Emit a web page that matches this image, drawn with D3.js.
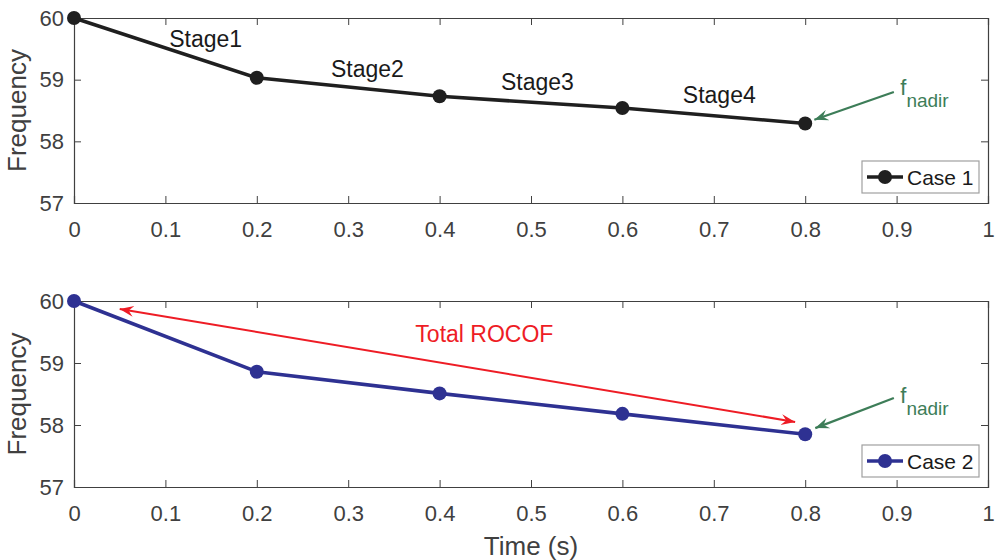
<!DOCTYPE html>
<html>
<head>
<meta charset="utf-8">
<script src="https://cdn.jsdelivr.net/npm/d3@7"></script>
<style>
  body { margin: 0; background: #fff; }
  svg text { font-family: "Liberation Sans", Arial, sans-serif; }
</style>
</head>
<body>
<svg id="chart" width="995" height="560"></svg>
<script>
// ---- data ----
const times = [0, 0.2, 0.4, 0.6, 0.8];
const case1 = [60, 59.03, 58.73, 58.54, 58.29];
const case2 = [60, 58.86, 58.51, 58.18, 57.85];
const xTicks = [0, 0.1, 0.2, 0.3, 0.4, 0.5, 0.6, 0.7, 0.8, 0.9, 1];
const yTicks = [57, 58, 59, 60];
const stageLabels = ["Stage1", "Stage2", "Stage3", "Stage4"];
// label anchor positions in data units (x, y)
const stageX = [0.144, 0.321, 0.507, 0.706];
const stageY = [59.53, 59.04, 58.83, 58.62];

// ---- layout ----
const left = 74, right = 988;
const panels = [
  { top: 18, bottom: 203, data: case1, color: "#1f1f1f", name: "Case 1",
    nadirText: [0.904, 58.75], nadirArrow: [[0.897, 58.80], [0.810, 58.35]] },
  { top: 301, bottom: 487, data: case2, color: "#2e3192", name: "Case 2",
    nadirText: [0.904, 58.355], nadirArrow: [[0.897, 58.435], [0.811, 57.95]] }
];

const axisColor = "#404040";
const green = "#3d7d58";
const red = "#ee1c25";

const svg = d3.select("#chart");

const x = d3.scaleLinear().domain([0, 1]).range([left, right]);

// arrowhead markers
const defs = svg.append("defs");
function arrowMarker(id, color) {
  defs.append("marker")
    .attr("id", id)
    .attr("viewBox", "-14 -7 16 14")
    .attr("refX", 0)
    .attr("refY", 0)
    .attr("markerUnits", "userSpaceOnUse")
    .attr("markerWidth", 16)
    .attr("markerHeight", 14)
    .attr("orient", "auto-start-reverse")
    .append("path")
    .attr("d", "M0,0 L-14,-5.5 L-9,0 L-14,5.5 Z")
    .attr("fill", color);
}
arrowMarker("arrowGreen", green);
arrowMarker("arrowRed", red);

panels.forEach((p, i) => {
  const y = d3.scaleLinear().domain([57, 60]).range([p.bottom, p.top]);
  const g = svg.append("g");

  // axes: full box with inward ticks on all four sides
  g.append("g")
    .attr("transform", `translate(0,${p.bottom})`)
    .call(d3.axisBottom(x).tickValues(xTicks).tickSize(-7).tickPadding(18).tickFormat(d3.format("")));
  g.append("g")
    .attr("transform", `translate(0,${p.top})`)
    .call(d3.axisTop(x).tickValues(xTicks).tickSize(-7).tickFormat(""));
  g.append("g")
    .attr("transform", `translate(${left},0)`)
    .call(d3.axisLeft(y).tickValues(yTicks).tickSize(-7).tickPadding(10).tickFormat(d3.format("d")));
  g.append("g")
    .attr("transform", `translate(${right},0)`)
    .call(d3.axisRight(y).tickValues(yTicks).tickSize(-7).tickFormat(""));

  g.selectAll(".domain").attr("stroke", axisColor).attr("stroke-width", 1.2);
  g.selectAll(".tick line").attr("stroke", axisColor);
  g.selectAll(".tick text").attr("fill", axisColor).style("font-size", "22px");

  // y label
  g.append("text")
    .attr("transform", `translate(26,${(p.top + p.bottom) / 2}) rotate(-90)`)
    .attr("text-anchor", "middle")
    .attr("fill", axisColor)
    .style("font-size", "26px")
    .text("Frequency");

  // series line + markers
  const line = d3.line().x((d, j) => x(times[j])).y(d => y(d));
  g.append("path")
    .datum(p.data)
    .attr("fill", "none")
    .attr("stroke", p.color)
    .attr("stroke-width", 3.6)
    .attr("stroke-linejoin", "round")
    .attr("d", line);
  g.selectAll(".pt")
    .data(p.data)
    .join("circle")
    .attr("cx", (d, j) => x(times[j]))
    .attr("cy", d => y(d))
    .attr("r", 7)
    .attr("fill", p.color);

  // f_nadir annotation
  g.append("line")
    .attr("x1", x(p.nadirArrow[0][0])).attr("y1", y(p.nadirArrow[0][1]))
    .attr("x2", x(p.nadirArrow[1][0])).attr("y2", y(p.nadirArrow[1][1]))
    .attr("stroke", green)
    .attr("stroke-width", 2.2)
    .attr("marker-end", "url(#arrowGreen)");
  const nt = g.append("text")
    .attr("x", x(p.nadirText[0]))
    .attr("y", y(p.nadirText[1]))
    .attr("fill", green)
    .style("font-size", "22px");
  nt.append("tspan").text("f");
  nt.append("tspan").attr("dy", 12).style("font-size", "19px").text("nadir");

  // legend
  const lg = g.append("g").attr("transform", `translate(862,${p.bottom - 42})`);
  lg.append("rect")
    .attr("width", 117).attr("height", 32)
    .attr("fill", "#fff")
    .attr("stroke", "#a0a0a0")
    .attr("stroke-width", 1.2);
  lg.append("line")
    .attr("x1", 5).attr("x2", 41).attr("y1", 16).attr("y2", 16)
    .attr("stroke", p.color).attr("stroke-width", 3.6);
  lg.append("circle").attr("cx", 23).attr("cy", 16).attr("r", 7).attr("fill", p.color);
  lg.append("text")
    .attr("x", 45).attr("y", 24)
    .attr("fill", "#1a1a1a")
    .style("font-size", "21px")
    .text(p.name);

  if (i === 0) {
    g.selectAll(".stage")
      .data(stageLabels)
      .join("text")
      .attr("x", (d, j) => x(stageX[j]))
      .attr("y", (d, j) => y(stageY[j]))
      .attr("text-anchor", "middle")
      .attr("fill", "#1a1a1a")
      .style("font-size", "23px")
      .text(d => d);
  } else {
    // total ROCOF double arrow
    g.append("line")
      .attr("x1", x(0.050)).attr("y1", y(59.87))
      .attr("x2", x(0.789)).attr("y2", y(58.05))
      .attr("stroke", red)
      .attr("stroke-width", 2)
      .attr("marker-start", "url(#arrowRed)")
      .attr("marker-end", "url(#arrowRed)");
    g.append("text")
      .attr("x", x(0.449))
      .attr("y", y(59.34))
      .attr("text-anchor", "middle")
      .attr("fill", red)
      .style("font-size", "23px")
      .text("Total ROCOF");
  }
});

// x label
svg.append("text")
  .attr("x", (left + right) / 2)
  .attr("y", 555)
  .attr("text-anchor", "middle")
  .attr("fill", axisColor)
  .style("font-size", "26px")
  .text("Time (s)");
</script>
</body>
</html>
